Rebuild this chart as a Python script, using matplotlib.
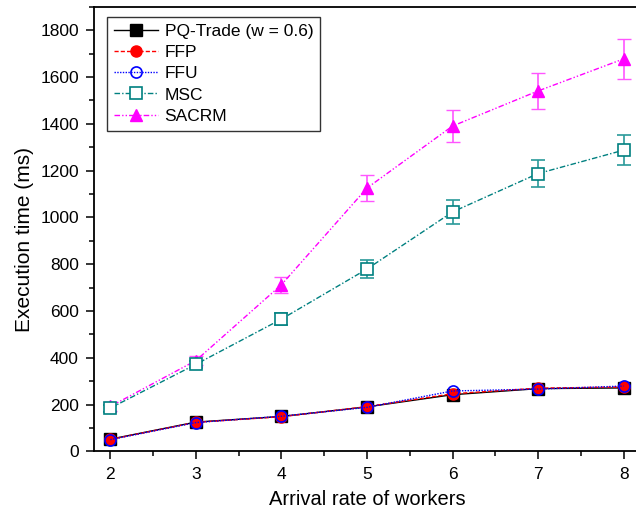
import numpy as np
import matplotlib.pyplot as plt
from matplotlib.lines import Line2D
from matplotlib.ticker import MultipleLocator

plt.rcParams['font.family'] = ['Liberation Sans', 'DejaVu Sans']

rates = [2, 3, 4, 5, 6, 7, 8]

pq_trade = [52, 125, 149, 190, 242, 268, 271]
ffp = [51, 124, 148, 191, 246, 270, 275]
ffu = [50, 123, 150, 188, 258, 266, 279]
msc = [185, 372, 565, 779, 1023, 1187, 1287]
sacrm = [192, 388, 712, 1125, 1390, 1540, 1677]

msc_err = [15, 15, 27, 38, 50, 58, 63]
sacrm_err = [20, 20, 35, 55, 70, 76, 84]

fig = plt.figure(figsize=(6.36, 5.17), dpi=100)
ax = fig.add_axes([0.148, 0.127, 0.858, 0.86])

ms = 8
styles = {
    'PQ-Trade (w = 0.6)': dict(color='black', ls='-', marker='s', mfc='black', mec='black'),
    'FFP': dict(color='red', ls=(0, (3, 1.5)), marker='o', mfc='red', mec='red'),
    'FFU': dict(color='blue', ls=(0, (1, 1)), marker='o', mfc='none', mec='blue', mew=1.2),
    'MSC': dict(color='#008080', ls=(0, (4, 1.5, 1, 1.5)), marker='s', mfc='white', mec='#008080', mew=1.2),
    'SACRM': dict(color='#ff00ff', ls=(0, (4, 1.5, 1, 1.5, 1, 1.5)), marker='^', mfc='#ff00ff', mec='#ff00ff'),
}

ax.errorbar(rates, sacrm, yerr=sacrm_err, lw=1, ms=ms + 1, capsize=5, elinewidth=1.2,
            ecolor='#ff55ff', zorder=3, **styles['SACRM'])
ax.errorbar(rates, msc, yerr=msc_err, lw=1, ms=ms, capsize=5, elinewidth=1.2,
            ecolor='#2a9a9a', zorder=3, **styles['MSC'])
ax.plot(rates, pq_trade, lw=1, ms=ms, zorder=4, **styles['PQ-Trade (w = 0.6)'])
ax.plot(rates, ffp, lw=1, ms=ms, zorder=5, **styles['FFP'])
ax.plot(rates, ffu, lw=1, ms=ms, zorder=6, **styles['FFU'])

ax.set_xlim(1.81, 8.19)
ax.set_ylim(0, 1900)
ax.set_xticks(rates)
ax.set_yticks(np.arange(0, 1801, 200))
ax.xaxis.set_minor_locator(MultipleLocator(0.5))
ax.yaxis.set_minor_locator(MultipleLocator(100))
ax.tick_params(which='major', direction='out', length=6, width=1.1, labelsize=12.5, pad=5)
ax.tick_params(which='minor', direction='out', length=3.5, width=1.1)
for sp in ax.spines.values():
    sp.set_linewidth(1.3)

ax.set_xlabel('Arrival rate of workers', fontsize=14.5, labelpad=6)
ax.set_ylabel('Execution time (ms)', fontsize=15, labelpad=3)
ax.yaxis.set_label_coords(-0.11, 0.476)

# legend without the error bar glyphs
names = list(styles.keys())
handles = [Line2D([], [], lw=1, ms=ms + (1 if k == 'SACRM' else 0), **styles[k]) for k in names]
leg = ax.legend(handles, names, loc='upper left', bbox_to_anchor=(0.024, 0.9775), borderaxespad=0,
                fontsize=12.5, frameon=True, fancybox=False, edgecolor='black',
                handlelength=2.5, labelspacing=0.35, borderpad=0.4, handletextpad=0.4)
leg.get_frame().set_linewidth(1.0)

fig.savefig('out.png', dpi=100)
